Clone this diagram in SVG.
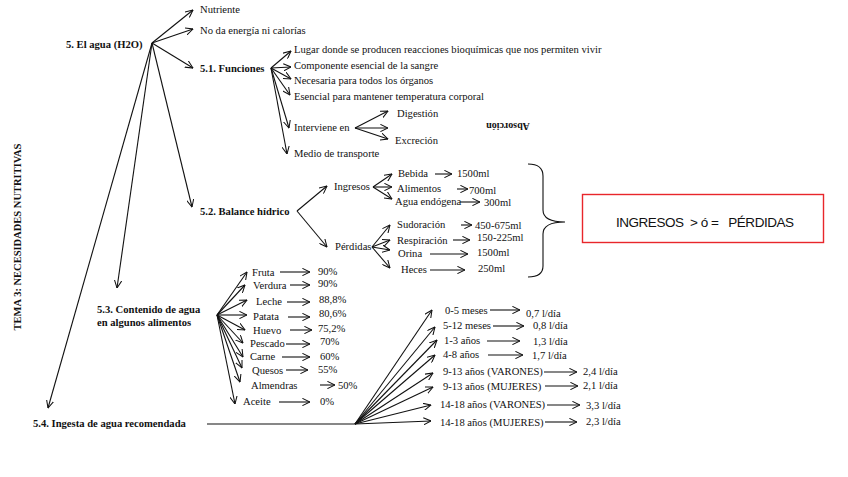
<svg xmlns="http://www.w3.org/2000/svg" width="848" height="477" viewBox="0 0 848 477">
<style>
text{font-family:"Liberation Serif","Times New Roman",serif;font-size:10.6px;fill:#111}
.b{font-weight:bold}
.c line,.c path{stroke:#111;stroke-width:1.1;fill:none}
.c line{marker-end:url(#a)}
.c .n{marker-end:none}
.box{font-family:"Liberation Sans",Arial,sans-serif;font-size:13.5px;fill:#111}
</style>
<defs>
<marker id="a" viewBox="0 0 10 10" refX="9.5" refY="5" markerWidth="8" markerHeight="8" orient="auto" markerUnits="userSpaceOnUse">
<path d="M0,0.5 L9.5,5 L0,9.5" fill="none" stroke="#111" stroke-width="1.3"/>
</marker>
</defs>
<rect width="848" height="477" fill="#fff"/>

<g id="title"><text class="b" transform="rotate(-90 21 237)" x="21" y="237" text-anchor="middle" style="font-size:10.5px">TEMA 3: NECESIDADES NUTRITIVAS</text></g>

<g id="agua"><text class="b" x="66" y="48">5. El agua (H2O)</text></g>
<g id="nutriente"><text x="200" y="13">Nutriente</text></g>
<g id="noda"><text x="200" y="34">No da energía ni calorías</text></g>
<g id="funciones"><text class="b" x="200" y="72">5.1. Funciones</text></g>
<g id="lugar"><text x="294" y="53">Lugar donde se producen reacciones bioquímicas que nos permiten vivir</text></g>
<g id="componente"><text x="294" y="69">Componente esencial de la sangre</text></g>
<g id="necesaria"><text x="294" y="84">Necesaria para todos los órganos</text></g>
<g id="esencial"><text x="294" y="100">Esencial para mantener temperatura corporal</text></g>
<g id="interviene"><text x="294" y="131">Interviene en</text></g>
<g id="digestion"><text x="397" y="117">Digestión</text></g>
<g id="excrecion"><text x="395" y="144">Excreción</text></g>
<g id="absorcion"><text class="b" transform="rotate(180 508 127)" x="508" y="131" text-anchor="middle" style="font-size:10px">Absorción</text></g>
<g id="medio"><text x="294" y="157">Medio de transporte</text></g>

<g id="balance"><text class="b" x="200" y="215">5.2. Balance hídrico</text></g>
<g id="ingresos"><text x="334" y="190">Ingresos</text></g>
<g id="bebida"><text x="398" y="177">Bebida</text><text x="457" y="177">1500ml</text></g>
<g id="alimentos"><text x="397" y="192">Alimentos</text><text x="469" y="194">700ml</text></g>
<g id="endogena"><text x="395" y="205">Agua endógena</text><text x="484" y="206">300ml</text></g>
<g id="perdidas"><text x="335" y="250">Pérdidas</text></g>
<g id="sudoracion"><text x="397" y="228">Sudoración</text><text x="475" y="229">450-675ml</text></g>
<g id="respiracion"><text x="397" y="244">Respiración</text><text x="477" y="241">150-225ml</text></g>
<g id="orina"><text x="398" y="257">Orina</text><text x="477" y="256">1500ml</text></g>
<g id="heces"><text x="401" y="273">Heces</text><text x="478" y="272">250ml</text></g>
<g id="igualdad">
<rect x="582.5" y="194.5" width="241" height="48" fill="#fff" stroke="#e8262b" stroke-width="1.4"/>
<text class="box" x="616" y="227" textLength="178" xml:space="preserve">INGRESOS  &gt; ó =   PÉRDIDAS</text>
</g>

<g id="contenido"><text class="b" x="97" y="313">5.3. Contenido de agua</text><text class="b" x="97" y="326">en algunos alimentos</text></g>
<g id="fruta"><text x="252" y="276">Fruta</text><text x="318" y="275">90%</text></g>
<g id="verdura"><text x="253" y="289">Verdura</text><text x="318" y="287">90%</text></g>
<g id="leche"><text x="256" y="305">Leche</text><text x="319" y="303">88,8%</text></g>
<g id="patata"><text x="253" y="320">Patata</text><text x="319" y="317">80,6%</text></g>
<g id="huevo"><text x="253" y="334">Huevo</text><text x="318" y="332">75,2%</text></g>
<g id="pescado"><text x="250" y="347">Pescado</text><text x="320" y="345">70%</text></g>
<g id="carne"><text x="250" y="360">Carne</text><text x="320" y="360">60%</text></g>
<g id="quesos"><text x="252" y="374">Quesos</text><text x="318" y="373">55%</text></g>
<g id="almendras"><text x="251" y="389">Almendras</text><text x="338" y="389">50%</text></g>
<g id="aceite"><text x="243" y="405">Aceite</text><text x="320" y="405">0%</text></g>

<g id="ingesta"><text class="b" x="33" y="427">5.4. Ingesta de agua recomendada</text></g>
<g id="e0-5"><text x="445" y="314">0-5 meses</text><text x="526" y="317">0,7 l/día</text></g>
<g id="e5-12"><text x="443" y="329">5-12 meses</text><text x="533" y="329">0,8 l/día</text></g>
<g id="e1-3"><text x="444" y="344">1-3 años</text><text x="533" y="345">1,3 l/día</text></g>
<g id="e4-8"><text x="443" y="358">4-8 años</text><text x="532" y="359">1,7 l/día</text></g>
<g id="e9-13v"><text x="443" y="375">9-13 años (VARONES)</text><text x="583" y="375">2,4 l/día</text></g>
<g id="e9-13m"><text x="443" y="390">9-13 años (MUJERES)</text><text x="583" y="389">2,1 l/día</text></g>
<g id="e14-18v"><text x="440" y="408">14-18 años (VARONES)</text><text x="586" y="409">3,3 l/día</text></g>
<g id="e14-18m"><text x="440" y="426">14-18 años (MUJERES)</text><text x="586" y="425">2,3 l/día</text></g>

<g id="connectors" class="c">
<line x1="152" y1="43" x2="193" y2="10"/>
<line x1="152" y1="43" x2="193" y2="29"/>
<line x1="152" y1="43" x2="193" y2="68"/>
<line x1="152" y1="43" x2="192" y2="207"/>
<line x1="152" y1="43" x2="117" y2="288"/>
<line x1="152" y1="43" x2="48" y2="408"/>

<line x1="271" y1="68" x2="291" y2="51"/>
<line x1="271" y1="68" x2="291" y2="67"/>
<line x1="271" y1="68" x2="291" y2="79"/>
<line x1="271" y1="68" x2="290" y2="95"/>
<line x1="271" y1="68" x2="289" y2="128"/>
<line x1="271" y1="68" x2="287" y2="154"/>

<line x1="355" y1="128" x2="388" y2="111"/>
<line x1="355" y1="128" x2="388" y2="128"/>
<line x1="355" y1="128" x2="388" y2="139"/>

<line x1="297" y1="211" x2="327" y2="186"/>
<line x1="297" y1="211" x2="327" y2="247"/>
<line x1="373" y1="187" x2="392" y2="174"/>
<line x1="373" y1="187" x2="392" y2="187"/>
<line x1="373" y1="187" x2="392" y2="199"/>
<line x1="435" y1="174" x2="452" y2="174"/>
<line x1="457" y1="189" x2="468" y2="189"/>
<line x1="460" y1="202" x2="480" y2="202"/>
<line x1="372" y1="247" x2="390" y2="225"/>
<line x1="372" y1="247" x2="390" y2="240"/>
<line x1="372" y1="247" x2="390" y2="250"/>
<line x1="372" y1="247" x2="390" y2="268"/>
<line x1="461" y1="225" x2="472" y2="225"/>
<line x1="453" y1="240" x2="470" y2="240"/>
<line x1="430" y1="254" x2="468" y2="254"/>
<line x1="430" y1="270" x2="465" y2="270"/>
<path d="M528,164 Q543,164 543,176 L543,210 Q543,222 565,222 Q543,222 543,234 L543,266 Q543,277 528,277" stroke="#555"/>

<line x1="217" y1="315" x2="247" y2="272"/>
<line x1="217" y1="315" x2="245" y2="285"/>
<line x1="217" y1="315" x2="247" y2="300"/>
<line x1="217" y1="315" x2="247" y2="315"/>
<line x1="217" y1="315" x2="245" y2="330"/>
<line x1="217" y1="315" x2="243" y2="343"/>
<line x1="217" y1="315" x2="243" y2="357"/>
<line x1="217" y1="315" x2="242" y2="368"/>
<line x1="217" y1="315" x2="240" y2="382"/>
<line x1="217" y1="315" x2="235" y2="404"/>
<line x1="280" y1="272" x2="310" y2="272"/>
<line x1="290" y1="285" x2="310" y2="285"/>
<line x1="287" y1="302" x2="310" y2="302"/>
<line x1="288" y1="317" x2="310" y2="317"/>
<line x1="290" y1="330" x2="312" y2="330"/>
<line x1="286" y1="344" x2="310" y2="344"/>
<line x1="282" y1="357" x2="310" y2="357"/>
<line x1="286" y1="370" x2="308" y2="370"/>
<line x1="320" y1="385" x2="335" y2="385"/>
<line x1="279" y1="402" x2="310" y2="402"/>

<line class="n" x1="207" y1="424" x2="355" y2="424"/>
<line x1="355" y1="424" x2="432" y2="310"/>
<line x1="355" y1="424" x2="435" y2="327"/>
<line x1="355" y1="424" x2="437" y2="340"/>
<line x1="355" y1="424" x2="435" y2="355"/>
<line x1="355" y1="424" x2="433" y2="373"/>
<line x1="355" y1="424" x2="433" y2="387"/>
<line x1="355" y1="424" x2="431" y2="405"/>
<line x1="355" y1="424" x2="431" y2="421"/>
<line x1="490" y1="310" x2="520" y2="310"/>
<line x1="493" y1="326" x2="524" y2="326"/>
<line x1="487" y1="341" x2="520" y2="341"/>
<line x1="488" y1="355" x2="523" y2="355"/>
<line x1="544" y1="372" x2="577" y2="372"/>
<line x1="545" y1="386" x2="578" y2="386"/>
<line x1="547" y1="405" x2="580" y2="405"/>
<line x1="545" y1="422" x2="577" y2="422"/>
</g>
</svg>
